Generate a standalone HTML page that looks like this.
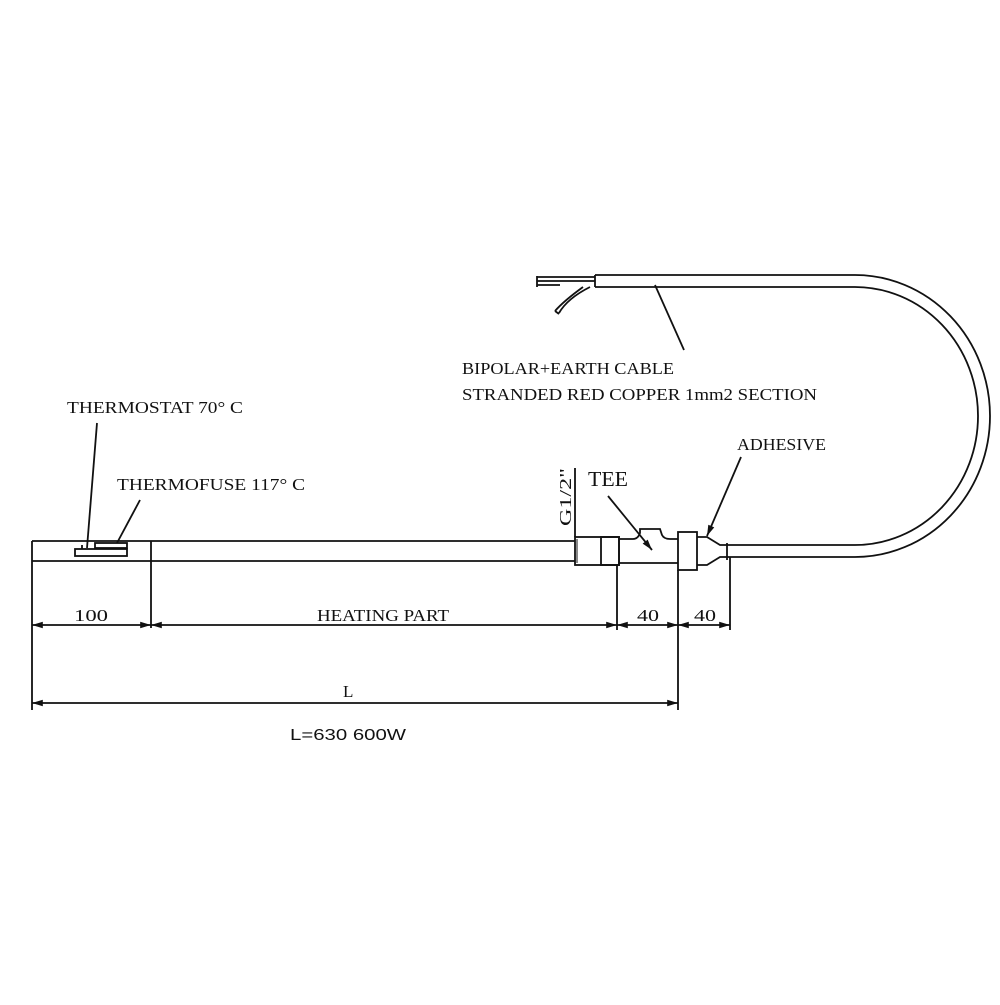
<!DOCTYPE html>
<html><head><meta charset="utf-8"><style>
html,body{margin:0;padding:0;background:#fff}
svg text{font-family:"Liberation Serif",serif;fill:#111}
</style></head><body>
<svg width="1000" height="1000" viewBox="0 0 1000 1000" xmlns="http://www.w3.org/2000/svg">
<defs>
<marker id="a" viewBox="0 0 10 10" refX="10" refY="5" markerWidth="8" markerHeight="6" orient="auto-start-reverse"><path d="M0,2 L10,5 L0,8 z" fill="#111"/></marker>
</defs>
<g stroke="#111" stroke-width="1.8" fill="none">
<line x1="32" y1="541" x2="575" y2="541"/>
<line x1="32" y1="561" x2="575" y2="561"/>
<line x1="32" y1="541" x2="32" y2="710"/>
<line x1="151" y1="541" x2="151" y2="628"/>
<rect x="75" y="549" width="52" height="7"/>
<rect x="95" y="543" width="32" height="5"/>
<line x1="82" y1="545" x2="82" y2="549"/>
<rect x="575" y="537" width="44" height="28"/>
<rect x="601" y="537" width="18" height="28"/>
<path d="M619 539 L633 539 Q638 539 640 533 L640 529 L660 529 L662 535 Q664 539 670 539 L678 539 M619 563 L678 563"/>
<rect x="678" y="532" width="19" height="38"/>
<path d="M697 537 L707 537 L720 545 L727 545 M697 565 L707 565 L720 557 L727 557"/>
<line x1="727" y1="543" x2="727" y2="560"/>
<path d="M727 545 L855 545 A123 129 0 0 0 855 287 L595 287"/>
<path d="M727 557 L855 557 A135 141 0 0 0 855 275 L595 275"/>
<line x1="595" y1="275" x2="595" y2="287"/>
<path d="M537 277 L595 277 M537 281 L595 281 M537 285 L560 285 M537 276 L537 287"/>
<path d="M590 287 C578 293 566 301 559 313 M583 287 C572 295 562 303 555 311 M555 311 L559 314"/>
<line x1="32" y1="625" x2="151" y2="625" marker-start="url(#a)" marker-end="url(#a)"/>
<line x1="151" y1="625" x2="617" y2="625" marker-start="url(#a)" marker-end="url(#a)"/>
<line x1="617" y1="625" x2="678" y2="625" marker-start="url(#a)" marker-end="url(#a)"/>
<line x1="678" y1="625" x2="730" y2="625" marker-start="url(#a)" marker-end="url(#a)"/>
<line x1="617" y1="565" x2="617" y2="630"/>
<line x1="678" y1="570" x2="678" y2="710"/>
<line x1="730" y1="557" x2="730" y2="630"/>
<line x1="32" y1="703" x2="678" y2="703" marker-start="url(#a)" marker-end="url(#a)"/>
<line x1="575" y1="468" x2="575" y2="537"/>
<line x1="577" y1="539" x2="577" y2="563" stroke-width="1"/>
<line x1="97" y1="423" x2="87" y2="548"/>
<line x1="140" y1="500" x2="117" y2="543"/>
<line x1="655" y1="285" x2="684" y2="350"/>
<line x1="741" y1="457" x2="707" y2="536" marker-end="url(#a)"/>
<line x1="608" y1="496" x2="652" y2="550" marker-end="url(#a)"/>
</g>
<g font-size="17">
<text x="67" y="413" textLength="176" lengthAdjust="spacingAndGlyphs">THERMOSTAT 70° C</text>
<text x="117" y="490" textLength="188" lengthAdjust="spacingAndGlyphs">THERMOFUSE 117° C</text>
<text x="462" y="374" textLength="212" lengthAdjust="spacingAndGlyphs">BIPOLAR+EARTH CABLE</text>
<text x="462" y="400" textLength="355" lengthAdjust="spacingAndGlyphs">STRANDED RED COPPER 1mm2 SECTION</text>
<text x="737" y="450" textLength="89" lengthAdjust="spacingAndGlyphs">ADHESIVE</text>
<text x="588" y="486" font-size="21" textLength="40" lengthAdjust="spacingAndGlyphs">TEE</text>
<text transform="translate(571,526) rotate(-90)" textLength="58" lengthAdjust="spacingAndGlyphs">G1/2"</text>
<text x="74" y="621" textLength="34" lengthAdjust="spacingAndGlyphs">100</text>
<text x="317" y="621" textLength="132" lengthAdjust="spacingAndGlyphs">HEATING PART</text>
<text x="637" y="621" textLength="22" lengthAdjust="spacingAndGlyphs">40</text>
<text x="694" y="621" textLength="22" lengthAdjust="spacingAndGlyphs">40</text>
<text x="343" y="697">L</text>
<text x="290" y="740" style="font-family:'Liberation Sans',sans-serif" font-size="16" textLength="116" lengthAdjust="spacingAndGlyphs">L=630 600W</text>
</g>
</svg>
</body></html>
